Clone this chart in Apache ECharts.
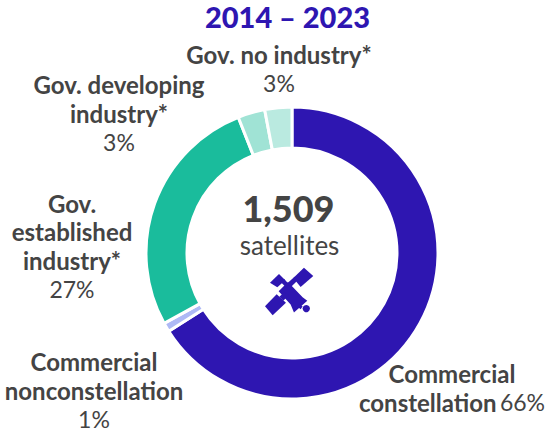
<!DOCTYPE html>
<html>
<head>
<meta charset="utf-8">
<style>html,body{margin:0;padding:0;background:#fff}#c{width:547px;height:429px}</style>
<script src="https://cdn.jsdelivr.net/npm/echarts@6/dist/echarts.min.js"></script>
</head>
<body>
<div id="c"></div>
<script>
const segmentNames = ['Commercial\nconstellation', 'Commercial\nnonconstellation', 'Gov.\nestablished\nindustry*', 'Gov. developing\nindustry*', 'Gov. no industry*'];
const segmentShares = [66, 1, 27, 3, 3];
const segmentColors = ['#2E16B1', '#AEB9F5', '#1ABC9C', '#A0E3D5', '#BAEAE0'];
const labelCenters = [[452, 388], [94, 390], [72, 246], [119, 113], [279, 69]];
const heading = '2014 – 2023';
const totalText = '1,509';
const unitText = 'satellites';

const fontFamily = 'Lato, sans-serif';
const textColor = '#444444';
const ink = '#2E16B1';

const chart = echarts.init(document.getElementById('c'), null, { renderer: 'svg' });

// Satellite glyph, drawn in a 180-unit box and scaled down to icon size
const glyphPolys = [
  [[57, 36], [76, 55], [52, 76], [30, 62]],
  [[132, 17], [160, 42], [122, 75], [100, 48]],
  [[50, 97], [78, 122], [38, 160], [15, 133]],
  [[84, 60], [128, 106], [142, 116], [102, 152], [92, 128], [56, 88]],
  [[72, 50], [88, 68], [78, 76], [62, 60]],
  [[104, 44], [112, 56], [92, 76], [82, 64]],
  [[58, 104], [70, 116], [86, 100], [74, 90]],
  [[118, 126], [128, 134], [122, 142], [112, 134]]
];
const satelliteGlyph = {
  type: 'group', x: 260, y: 262, scaleX: 1 / 3, scaleY: 1 / 3,
  children: glyphPolys.map(points => ({ type: 'polygon', shape: { points }, style: { fill: ink } }))
    .concat([{ type: 'circle', shape: { cx: 139, cy: 140, r: 11 }, style: { fill: ink } }])
};

chart.setOption({
  animation: false,
  title: {
    text: heading,
    left: 282.5, top: -3, textAlign: 'center',
    textStyle: { fontFamily, fontSize: 29, fontWeight: 900, color: ink }
  },
  graphic: [
    { type: 'text', style: { text: totalText, x: 288.5, y: 208, align: 'center', verticalAlign: 'middle', font: '900 36px ' + fontFamily, fill: textColor } },
    { type: 'text', style: { text: unitText, x: 289.5, y: 245, align: 'center', verticalAlign: 'middle', font: '400 26px ' + fontFamily, fill: textColor } },
    satelliteGlyph
  ],
  series: [{
    type: 'pie',
    center: [292, 253],
    radius: [105, 146],
    startAngle: 90,
    clockwise: true,
    silent: true,
    itemStyle: { borderColor: '#fff', borderWidth: 3 },
    data: segmentNames.map((name, i) => ({ name, value: segmentShares[i], itemStyle: { color: segmentColors[i] } })),
    label: {
      show: true,
      position: 'outside',
      align: 'center',
      overflow: 'none',
      lineHeight: 28.5,
      formatter: p => {
        const bold = p.name.split('\n').map(t => '{b|' + t + '}');
        const share = '{r|' + p.value + '%}';
        if (p.dataIndex === 0) return bold[0] + '\n' + bold[1] + ' ' + share;
        return bold.join('\n') + '\n' + share;
      },
      rich: {
        b: { fontFamily, fontSize: 24, fontWeight: 700, color: textColor, lineHeight: 28.5 },
        r: { fontFamily, fontSize: 23, fontWeight: 400, color: textColor, lineHeight: 28.5 }
      }
    },
    labelLine: { show: false },
    labelLayout: p => ({ x: labelCenters[p.dataIndex][0], y: labelCenters[p.dataIndex][1], align: 'center', verticalAlign: 'middle' })
  }]
});
</script>
</body>
</html>
